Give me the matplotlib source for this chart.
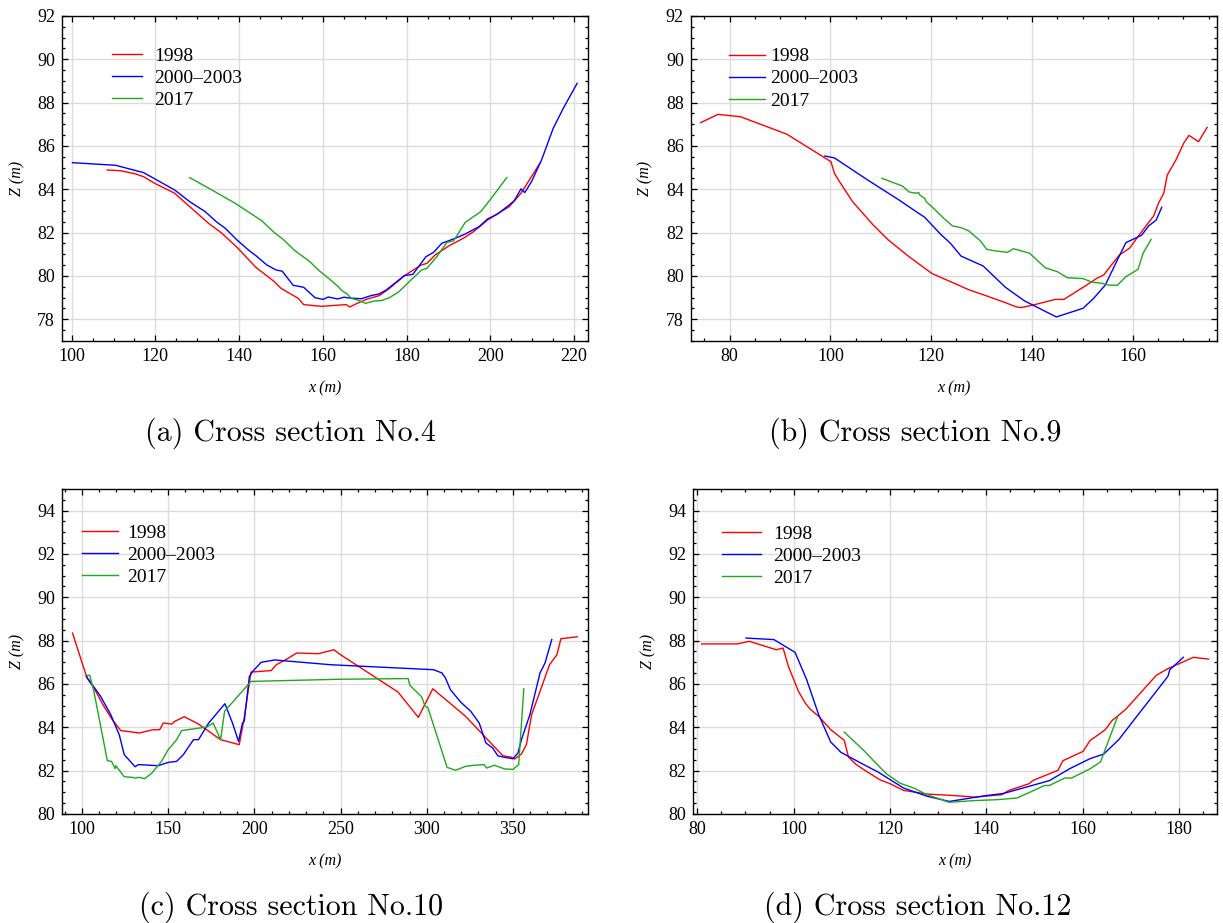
import numpy as np
import matplotlib
matplotlib.use('Agg')
import matplotlib.pyplot as plt
from matplotlib.ticker import MultipleLocator

plt.rcParams['font.family'] = 'Liberation Serif'

# ---- data (x in m, Z in m) ----
# Cross section No.4
a_1998_x = [108.5, 111.7, 115.3, 117.2, 119.8, 124.6, 128.2, 132.7, 135.9, 139.5, 144.0, 148.4, 150.0, 154.1, 155.4,
            159.7, 165.6, 166.4, 168.2, 170.6, 173.4, 175.9, 179.5, 183.5, 184.8, 186.8, 190.0, 193.6, 196.0, 199.3,
            202.1, 204.5, 207.3, 211.8]
a_1998_z = [84.89, 84.86, 84.71, 84.58, 84.28, 83.82, 83.20, 82.43, 81.97, 81.32, 80.40, 79.74, 79.43, 78.97, 78.68,
            78.60, 78.68, 78.57, 78.74, 78.94, 79.09, 79.43, 80.02, 80.51, 80.58, 80.97, 81.38, 81.75, 82.05, 82.58,
            82.92, 83.20, 83.82, 85.20]
a_2000_x = [100.2, 110.5, 117.2, 119.8, 124.6, 128.2, 131.9, 134.7, 136.7, 139.5, 142.4, 144.0, 146.6, 148.8, 150.3,
            152.9, 155.4, 158.1, 160.0, 161.3, 163.5, 165.0, 166.6, 169.2, 171.4, 173.4, 175.1, 177.9, 179.5, 181.5,
            184.6, 186.4, 188.4, 191.6, 194.0, 197.3, 199.3, 201.7, 204.5, 205.7, 207.3, 208.2, 209.8, 212.2, 215.0,
            217.4, 220.7]
a_2000_z = [85.23, 85.11, 84.77, 84.49, 83.97, 83.43, 82.97, 82.48, 82.20, 81.66, 81.17, 80.94, 80.51, 80.28, 80.22,
            79.57, 79.48, 79.00, 78.92, 79.03, 78.94, 79.02, 78.98, 78.95, 79.09, 79.17, 79.35, 79.78, 80.02, 80.08,
            80.89, 81.09, 81.51, 81.74, 81.94, 82.28, 82.63, 82.86, 83.28, 83.48, 84.02, 83.85, 84.35, 85.35, 86.82,
            87.74, 88.89]
a_2017_x = [128.2, 133.5, 139.1, 145.4, 148.4, 150.5, 153.3, 156.9, 158.9, 161.8, 163.8, 164.6, 165.6, 166.8, 168.7,
            170.2, 172.3, 173.9, 175.9, 178.2, 181.2, 183.6, 184.8, 187.2, 189.6, 191.2, 194.0, 197.7, 200.5, 203.9]
a_2017_z = [84.54, 83.97, 83.35, 82.55, 82.00, 81.69, 81.17, 80.66, 80.28, 79.82, 79.48, 79.31, 79.20, 78.97, 78.86,
            78.74, 78.85, 78.86, 79.00, 79.28, 79.85, 80.28, 80.35, 80.89, 81.55, 81.62, 82.48, 82.97, 83.66, 84.54]

# Cross section No.9
b_1998_x = [74.3, 77.7, 82.2, 91.4, 99.6, 100.1, 100.8, 101.6, 104.4, 108.5, 111.5, 115.6, 120.1, 123.8, 127.6,
            129.9, 134.7, 136.8, 137.8, 140.2, 144.6, 146.3, 150.8, 152.8, 154.2, 157.3, 159.3, 161.0, 162.7, 164.1,
            165.1, 166.1, 166.8, 168.5, 170.1, 171.1, 173.0, 174.7]
b_1998_z = [87.08, 87.46, 87.35, 86.54, 85.35, 85.28, 84.74, 84.43, 83.43, 82.35, 81.66, 80.89, 80.12, 79.74, 79.35,
            79.17, 78.77, 78.58, 78.54, 78.66, 78.92, 78.92, 79.58, 79.89, 80.05, 80.97, 81.28, 81.82, 82.35, 82.77,
            83.38, 83.82, 84.66, 85.35, 86.15, 86.49, 86.20, 86.86]
b_2000_x = [98.9, 100.8, 107.4, 113.6, 117.0, 118.7, 121.8, 123.8, 125.9, 130.3, 134.7, 138.5, 144.8, 150.1, 152.2,
            154.5, 156.9, 158.6, 161.7, 163.1, 164.6, 165.7]
b_2000_z = [85.54, 85.45, 84.43, 83.51, 82.97, 82.71, 81.94, 81.51, 80.92, 80.46, 79.48, 78.85, 78.11, 78.51, 78.97,
            79.58, 80.74, 81.54, 81.88, 82.31, 82.58, 83.17]
b_2017_x = [110.2, 114.3, 115.6, 117.0, 117.5, 117.7, 118.7, 119.0, 120.1, 122.5, 124.2, 125.9, 127.4, 129.7, 131.0,
            132.4, 135.1, 136.3, 139.5, 141.3, 142.6, 145.0, 147.0, 150.1, 151.8, 153.9, 155.2, 156.9, 158.6, 159.7,
            161.0, 162.0, 163.6]
b_2017_z = [84.51, 84.15, 83.88, 83.82, 83.85, 83.74, 83.58, 83.43, 83.20, 82.66, 82.31, 82.23, 82.09, 81.63, 81.23,
            81.17, 81.09, 81.26, 81.05, 80.66, 80.38, 80.20, 79.92, 79.88, 79.72, 79.66, 79.58, 79.57, 79.97, 80.12,
            80.31, 81.05, 81.69]

# Cross section No.10
c_1998_x = [94.5, 102.9, 106.9, 112.7, 117.6, 122.5, 133.3, 141.2, 145.1, 147.1, 152.0, 153.9, 159.4, 167.6, 173.5,
            180.4, 191.2, 194.1, 198.0, 209.8, 212.7, 218.6, 224.5, 237.3, 246.1, 250.0, 283.3, 295.1, 303.5, 322.5,
            344.1, 349.0, 351.0, 354.9, 357.8, 360.8, 365.7, 371.2, 375.5, 377.8, 387.3]
c_1998_z = [88.35, 86.28, 85.82, 84.97, 84.35, 83.85, 83.74, 83.89, 83.89, 84.20, 84.15, 84.28, 84.49, 84.15, 83.82,
            83.43, 83.20, 84.43, 86.55, 86.62, 86.89, 87.14, 87.43, 87.40, 87.58, 87.35, 85.63, 84.46, 85.78, 84.51,
            82.69, 82.62, 82.54, 82.77, 83.20, 84.58, 85.66, 86.89, 87.35, 88.09, 88.18]
c_2000_x = [102.5, 110.8, 116.7, 121.6, 124.5, 130.8, 132.7, 144.1, 150.0, 154.9, 158.8, 164.7, 167.6, 173.5, 182.9,
            187.3, 190.8, 193.1, 194.1, 197.1, 199.0, 203.9, 211.8, 244.1, 303.9, 308.8, 310.8, 313.7, 319.6, 325.5,
            330.4, 334.3, 338.2, 341.2, 344.1, 350.0, 352.9, 354.9, 359.8, 365.7, 368.6, 372.5]
c_2000_z = [86.35, 85.43, 84.58, 83.66, 82.74, 82.18, 82.28, 82.23, 82.38, 82.43, 82.74, 83.43, 83.43, 84.20, 85.09,
            84.20, 83.35, 84.20, 84.28, 86.35, 86.58, 87.00, 87.11, 86.89, 86.66, 86.51, 86.28, 85.74, 85.17, 84.74,
            84.20, 83.28, 83.05, 82.69, 82.63, 82.55, 82.82, 83.43, 84.58, 86.51, 86.97, 88.05]
c_2017_x = [103.3, 104.5, 106.9, 114.7, 117.1, 118.6, 119.2, 119.6, 124.5, 129.4, 130.4, 133.3, 136.3, 140.2, 146.1,
            150.0, 154.9, 157.8, 172.5, 176.1, 180.4, 182.7, 198.0, 250.0, 289.2, 290.2, 297.1, 299.0, 300.6, 311.8,
            316.7, 322.5, 327.5, 333.3, 334.7, 339.2, 345.1, 350.0, 353.3, 356.3]
c_2017_z = [86.40, 86.40, 85.66, 82.46, 82.43, 82.20, 82.09, 82.23, 81.72, 81.69, 81.66, 81.69, 81.63, 81.86, 82.43,
            82.97, 83.43, 83.85, 84.02, 84.20, 83.43, 84.74, 86.12, 86.22, 86.25, 85.94, 85.40, 84.97, 84.92, 82.15,
            82.02, 82.20, 82.25, 82.28, 82.12, 82.25, 82.08, 82.06, 82.28, 85.78]

# Cross section No.12
d_1998_x = [80.9, 88.3, 90.8, 96.4, 97.8, 98.9, 101.0, 102.4, 103.5, 105.2, 107.7, 110.5, 111.4, 113.0, 115.1,
            117.9, 120.0, 122.8, 127.7, 133.4, 137.6, 143.2, 144.6, 148.9, 149.6, 154.9, 155.9, 160.1, 161.5, 164.7,
            166.1, 168.9, 175.3, 177.7, 183.0, 186.1]
d_1998_z = [87.85, 87.85, 87.97, 87.58, 87.66, 86.82, 85.66, 85.12, 84.82, 84.51, 83.89, 83.40, 82.62, 82.28, 81.97,
            81.58, 81.40, 81.09, 80.92, 80.85, 80.78, 80.89, 81.08, 81.40, 81.54, 82.02, 82.46, 82.89, 83.38, 83.89,
            84.31, 84.82, 86.40, 86.71, 87.23, 87.15]
d_2000_x = [90.1, 95.9, 100.3, 102.7, 105.2, 107.7, 109.8, 113.7, 117.5, 122.8, 127.7, 132.3, 140.0, 143.6, 153.1,
            157.3, 161.5, 164.4, 167.5, 170.7, 177.7, 178.1, 180.9]
d_2000_z = [88.12, 88.05, 87.46, 86.20, 84.58, 83.32, 82.85, 82.38, 81.94, 81.20, 80.82, 80.58, 80.85, 80.95, 81.54,
            82.09, 82.55, 82.77, 83.43, 84.35, 86.35, 86.66, 87.23]
d_2017_x = [110.5, 114.4, 117.5, 119.3, 122.1, 124.9, 127.7, 132.3, 137.6, 142.2, 146.4, 149.2, 152.0, 153.1, 156.3,
            157.7, 161.5, 163.7, 167.2]
d_2017_z = [83.78, 82.97, 82.25, 81.85, 81.42, 81.20, 80.89, 80.54, 80.62, 80.66, 80.74, 81.02, 81.31, 81.32, 81.66,
            81.66, 82.08, 82.40, 84.46]

labels = ['1998', '2000\u20132003', '2017']
colors = ['#ff0000', '#0000ff', '#1fa81f']
captions = ['(a) Cross section No.4', '(b) Cross section No.9',
            '(c) Cross section No.10', '(d) Cross section No.12']

series = [
    [(a_1998_x, a_1998_z), (a_2000_x, a_2000_z), (a_2017_x, a_2017_z)],
    [(b_1998_x, b_1998_z), (b_2000_x, b_2000_z), (b_2017_x, b_2017_z)],
    [(c_1998_x, c_1998_z), (c_2000_x, c_2000_z), (c_2017_x, c_2017_z)],
    [(d_1998_x, d_1998_z), (d_2000_x, d_2000_z), (d_2017_x, d_2017_z)],
]

# ---- layout (pixels of a 1223x923 canvas) ----
W, H = 1223, 923
boxes = [(62, 588, 16, 341), (690.7, 1216.7, 16, 341), (62, 588.3, 489, 814), (693, 1217, 489, 814)]
xlims = [(97.7, 223.3), (72.3, 176.6), (88.4, 393.7), (79.1, 187.9)]
ylims = [(77, 92), (77, 92), (80, 95), (80, 95)]
xsteps = [(20, 5), (20, 5), (50, 10), (20, 5)]
# legend: handle start x, handle length, text gap, first row y
leg_px = [(112.4, 30, 12, 55), (729.4, 36, 5, 55.8), (82, 35.5, 10, 532.3), (722.2, 39, 12, 533.5)]
cap_pos = [(290, 433), (915, 433), (291, 907), (918, 907)]

fig = plt.figure(figsize=(W / 100, H / 100), dpi=100)
leg_fs = 14
fs_px = leg_fs * 100 / 72.0

for i in range(4):
    l, r, t, b = boxes[i]
    ax = fig.add_axes([l / W, 1 - b / H, (r - l) / W, (b - t) / H])
    for (xs, zs), c, lab in zip(series[i], colors, labels):
        ax.plot(xs, zs, color=c, lw=1.0, label=lab)
    ax.set_xlim(*xlims[i])
    ax.set_ylim(*ylims[i])
    ax.xaxis.set_major_locator(MultipleLocator(xsteps[i][0]))
    ax.xaxis.set_minor_locator(MultipleLocator(xsteps[i][1]))
    ax.yaxis.set_major_locator(MultipleLocator(2))
    ax.yaxis.set_minor_locator(MultipleLocator(0.5))
    ax.tick_params(which='both', direction='in', top=True, right=True, width=0.9, labelsize=13, pad=5)
    ax.tick_params(which='major', length=4.3)
    ax.tick_params(which='minor', length=2.4)
    ax.grid(which='major', color='#dcdcdc', lw=1.0)
    ax.set_axisbelow(True)
    for sp in ax.spines.values():
        sp.set_linewidth(1.0)
    ax.set_xlabel('x (m)', fontsize=11.5, fontstyle='italic')
    ax.set_ylabel('Z (m)', fontsize=11.5, fontstyle='italic')
    ax.xaxis.set_label_coords(0.5, -(380 - 341) / 325.0)
    ax.yaxis.set_label_coords(-(62 - 25) / (r - l), 0.5)

    hx, hl, gap, y0 = leg_px[i]
    bx = (hx - l) / (r - l)
    by = 1 - (y0 - 8 - t) / (b - t)
    ax.legend(loc='upper left', bbox_to_anchor=(bx, by), frameon=False, borderpad=0, borderaxespad=0,
              handlelength=hl / fs_px, handletextpad=gap / fs_px, labelspacing=0.23, fontsize=leg_fs)

    cx, cy = cap_pos[i]
    fig.text(cx / W, 1 - cy / H, captions[i], family='cmr10', fontsize=21.6, ha='center', va='center')

fig.savefig('out.png', dpi=100)
